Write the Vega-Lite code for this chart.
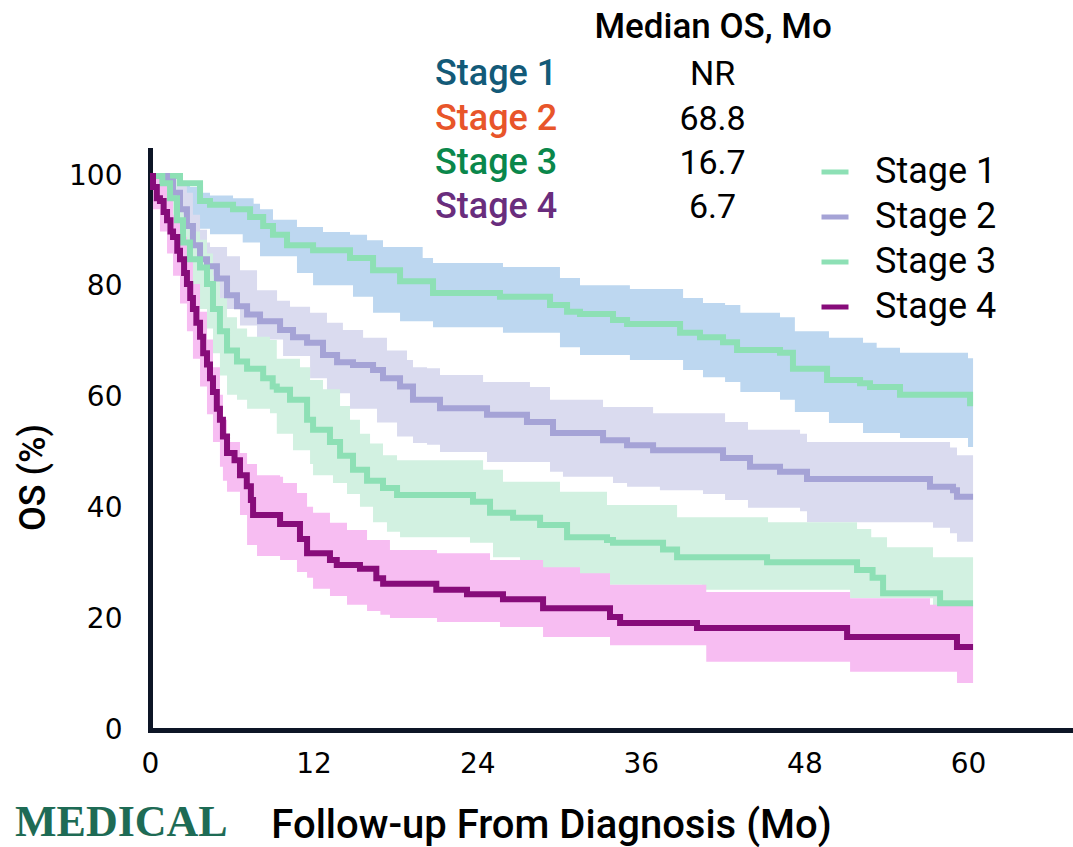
{
"$schema": "https://vega.github.io/schema/vega-lite/v6.json",
"width": 923, "height": 580,
"autosize": {"type": "none"},
"padding": {"left": 150, "top": 150, "right": 0, "bottom": 117},
"background": "white",
"config": {"view": {"stroke": null}, "font": "DejaVu Sans",
 "axis": {"domainColor": "#0d1526", "domainWidth": 5, "domainCap": "square", "ticks": false, "grid": false, "labelFlush": false, "labelFont": "DejaVu Sans", "labelFontSize": 28, "labelColor": "black", "titleFont": "Roboto", "titleFontSize": 40, "titleFontWeight": 500, "titleColor": "black"}},
"datasets": {
"curves": [
{"stage":"Stage 1","month":0,"os":100},{"stage":"Stage 1","month":2.2,"os":98.7},{"stage":"Stage 1","month":3.67,"os":95.5},{"stage":"Stage 1","month":4.4,"os":94.8},{"stage":"Stage 1","month":6.09,"os":94.0},{"stage":"Stage 1","month":7.34,"os":92.6},{"stage":"Stage 1","month":8.3,"os":91.0},{"stage":"Stage 1","month":9.02,"os":89.4},{"stage":"Stage 1","month":10.05,"os":87.5},{"stage":"Stage 1","month":11.96,"os":86.6},{"stage":"Stage 1","month":14.67,"os":85.2},{"stage":"Stage 1","month":16.36,"os":83.0},{"stage":"Stage 1","month":18.34,"os":81.0},{"stage":"Stage 1","month":20.76,"os":78.9},{"stage":"Stage 1","month":25.67,"os":78.2},{"stage":"Stage 1","month":29.34,"os":76.7},{"stage":"Stage 1","month":30.59,"os":75.5},{"stage":"Stage 1","month":31.54,"os":75.1},{"stage":"Stage 1","month":33.96,"os":74.0},{"stage":"Stage 1","month":34.99,"os":73.3},{"stage":"Stage 1","month":38.88,"os":71.7},{"stage":"Stage 1","month":40.34,"os":70.9},{"stage":"Stage 1","month":42.03,"os":70.0},{"stage":"Stage 1","month":43.06,"os":68.6},{"stage":"Stage 1","month":46.21,"os":68.1},{"stage":"Stage 1","month":47.16,"os":65.2},{"stage":"Stage 1","month":49.66,"os":63.2},{"stage":"Stage 1","month":52.08,"os":62.6},{"stage":"Stage 1","month":52.81,"os":61.9},{"stage":"Stage 1","month":55.01,"os":60.5},{"stage":"Stage 1","month":60.15,"os":59.0},{"stage":"Stage 1","month":60.37,"os":59.0},
{"stage":"Stage 2","month":0,"os":100},{"stage":"Stage 2","month":1.25,"os":99},{"stage":"Stage 2","month":1.69,"os":97},{"stage":"Stage 2","month":2.2,"os":94},{"stage":"Stage 2","month":2.71,"os":91},{"stage":"Stage 2","month":3.15,"os":87.5},{"stage":"Stage 2","month":3.67,"os":85},{"stage":"Stage 2","month":4.18,"os":83.7},{"stage":"Stage 2","month":4.91,"os":81.5},{"stage":"Stage 2","month":5.65,"os":78.5},{"stage":"Stage 2","month":6.38,"os":76.5},{"stage":"Stage 2","month":7.12,"os":75},{"stage":"Stage 2","month":8.07,"os":73.8},{"stage":"Stage 2","month":9.54,"os":72.2},{"stage":"Stage 2","month":10.49,"os":70.9},{"stage":"Stage 2","month":11.52,"os":69.9},{"stage":"Stage 2","month":12.69,"os":67.7},{"stage":"Stage 2","month":13.72,"os":66.4},{"stage":"Stage 2","month":14.89,"os":65.9},{"stage":"Stage 2","month":16.36,"os":65},{"stage":"Stage 2","month":17.09,"os":63.5},{"stage":"Stage 2","month":18.34,"os":62},{"stage":"Stage 2","month":19.29,"os":59.6},{"stage":"Stage 2","month":21.27,"os":58.1},{"stage":"Stage 2","month":24.72,"os":56.9},{"stage":"Stage 2","month":27.65,"os":55.6},{"stage":"Stage 2","month":29.56,"os":53.6},{"stage":"Stage 2","month":33.23,"os":52.3},{"stage":"Stage 2","month":34.99,"os":51.4},{"stage":"Stage 2","month":36.9,"os":50.5},{"stage":"Stage 2","month":42.03,"os":49.1},{"stage":"Stage 2","month":44.01,"os":47.5},{"stage":"Stage 2","month":46.21,"os":46.6},{"stage":"Stage 2","month":48.19,"os":45.3},{"stage":"Stage 2","month":57.21,"os":43.9},{"stage":"Stage 2","month":58.9,"os":43.3},{"stage":"Stage 2","month":59.19,"os":42.1},{"stage":"Stage 2","month":60.37,"os":42.1},
{"stage":"Stage 3","month":0,"os":100},{"stage":"Stage 3","month":0.9,"os":98.7},{"stage":"Stage 3","month":1.47,"os":96},{"stage":"Stage 3","month":1.98,"os":92},{"stage":"Stage 3","month":2.42,"os":88},{"stage":"Stage 3","month":2.93,"os":85},{"stage":"Stage 3","month":3.67,"os":83.5},{"stage":"Stage 3","month":4.18,"os":80.5},{"stage":"Stage 3","month":4.62,"os":76},{"stage":"Stage 3","month":5.13,"os":72},{"stage":"Stage 3","month":5.65,"os":68.5},{"stage":"Stage 3","month":6.38,"os":66.5},{"stage":"Stage 3","month":7.12,"os":65.2},{"stage":"Stage 3","month":8.3,"os":63.5},{"stage":"Stage 3","month":9.0,"os":62},{"stage":"Stage 3","month":9.3,"os":61.4},{"stage":"Stage 3","month":10.27,"os":59.6},{"stage":"Stage 3","month":11.52,"os":56},{"stage":"Stage 3","month":11.96,"os":54.2},{"stage":"Stage 3","month":13.2,"os":52},{"stage":"Stage 3","month":13.94,"os":49.5},{"stage":"Stage 3","month":14.89,"os":47},{"stage":"Stage 3","month":15.92,"os":45},{"stage":"Stage 3","month":17.09,"os":43.7},{"stage":"Stage 3","month":18.12,"os":42.4},{"stage":"Stage 3","month":23.69,"os":41.2},{"stage":"Stage 3","month":24.94,"os":39.2},{"stage":"Stage 3","month":26.63,"os":38.3},{"stage":"Stage 3","month":28.61,"os":37.0},{"stage":"Stage 3","month":30.59,"os":34.8},{"stage":"Stage 3","month":33.52,"os":34.3},{"stage":"Stage 3","month":33.96,"os":33.8},{"stage":"Stage 3","month":37.63,"os":32.6},{"stage":"Stage 3","month":38.66,"os":31.2},{"stage":"Stage 3","month":45.26,"os":30.3},{"stage":"Stage 3","month":51.86,"os":28.9},{"stage":"Stage 3","month":53.0,"os":27.5},{"stage":"Stage 3","month":53.77,"os":24.7},{"stage":"Stage 3","month":57.95,"os":22.9},{"stage":"Stage 3","month":60.37,"os":22.9},
{"stage":"Stage 4","month":0,"os":100},{"stage":"Stage 4","month":0.22,"os":98},{"stage":"Stage 4","month":0.5,"os":96},{"stage":"Stage 4","month":0.73,"os":95.5},{"stage":"Stage 4","month":1.0,"os":93.5},{"stage":"Stage 4","month":1.25,"os":92},{"stage":"Stage 4","month":1.5,"os":90},{"stage":"Stage 4","month":1.69,"os":89},{"stage":"Stage 4","month":2.0,"os":86.5},{"stage":"Stage 4","month":2.2,"os":85},{"stage":"Stage 4","month":2.5,"os":82.5},{"stage":"Stage 4","month":2.71,"os":80.5},{"stage":"Stage 4","month":2.95,"os":78},{"stage":"Stage 4","month":3.15,"os":76},{"stage":"Stage 4","month":3.4,"os":73.5},{"stage":"Stage 4","month":3.67,"os":71},{"stage":"Stage 4","month":3.9,"os":68},{"stage":"Stage 4","month":4.18,"os":66},{"stage":"Stage 4","month":4.4,"os":63.5},{"stage":"Stage 4","month":4.62,"os":61},{"stage":"Stage 4","month":4.9,"os":58},{"stage":"Stage 4","month":5.13,"os":56},{"stage":"Stage 4","month":5.35,"os":53},{"stage":"Stage 4","month":5.65,"os":50},{"stage":"Stage 4","month":6.2,"os":48.7},{"stage":"Stage 4","month":6.6,"os":46},{"stage":"Stage 4","month":7.1,"os":44},{"stage":"Stage 4","month":7.4,"os":41.5},{"stage":"Stage 4","month":7.56,"os":38.8},{"stage":"Stage 4","month":9.54,"os":37.2},{"stage":"Stage 4","month":11.0,"os":34.5},{"stage":"Stage 4","month":11.52,"os":31.9},{"stage":"Stage 4","month":13.2,"os":30.7},{"stage":"Stage 4","month":13.7,"os":29.8},{"stage":"Stage 4","month":15.4,"os":29.1},{"stage":"Stage 4","month":16.6,"os":27.4},{"stage":"Stage 4","month":17.1,"os":26.4},{"stage":"Stage 4","month":21.0,"os":25.3},{"stage":"Stage 4","month":23.25,"os":24.5},{"stage":"Stage 4","month":25.89,"os":23.6},{"stage":"Stage 4","month":28.83,"os":22.0},{"stage":"Stage 4","month":33.74,"os":20.4},{"stage":"Stage 4","month":34.48,"os":19.3},{"stage":"Stage 4","month":40.12,"os":18.4},{"stage":"Stage 4","month":51.13,"os":16.8},{"stage":"Stage 4","month":59.19,"os":15.0},{"stage":"Stage 4","month":60.37,"os":15.0}
],
"bands": [
{"band":"Stage 1","month":0,"lower":100,"upper":100},{"band":"Stage 1","month":1.5,"lower":99,"upper":100},{"band":"Stage 1","month":2.42,"lower":95,"upper":99},{"band":"Stage 1","month":2.93,"lower":92,"upper":98},{"band":"Stage 1","month":3.5,"lower":90.5,"upper":98},{"band":"Stage 1","month":3.89,"lower":90.5,"upper":97},{"band":"Stage 1","month":4.4,"lower":89.5,"upper":96.5},{"band":"Stage 1","month":6.09,"lower":89.5,"upper":96},{"band":"Stage 1","month":6.8,"lower":88,"upper":96},{"band":"Stage 1","month":7.6,"lower":88,"upper":95},{"band":"Stage 1","month":8.07,"lower":85.5,"upper":94},{"band":"Stage 1","month":9.02,"lower":85.5,"upper":92.1},{"band":"Stage 1","month":10.78,"lower":82.5,"upper":90.8},{"band":"Stage 1","month":11.96,"lower":80.3,"upper":90.8},{"band":"Stage 1","month":12.69,"lower":80.3,"upper":89.9},{"band":"Stage 1","month":14.67,"lower":80.3,"upper":89.4},{"band":"Stage 1","month":14.89,"lower":78.2,"upper":89.4},{"band":"Stage 1","month":15.92,"lower":78.2,"upper":88.4},{"band":"Stage 1","month":16.36,"lower":75.3,"upper":88.4},{"band":"Stage 1","month":17.09,"lower":75.3,"upper":87.2},{"band":"Stage 1","month":18.34,"lower":73.8,"upper":87.2},{"band":"Stage 1","month":20.0,"lower":73.8,"upper":85.2},{"band":"Stage 1","month":20.76,"lower":72.7,"upper":84.3},{"band":"Stage 1","month":25.89,"lower":71.7,"upper":83.6},{"band":"Stage 1","month":30.07,"lower":69.1,"upper":81.6},{"band":"Stage 1","month":31.54,"lower":67.7,"upper":80.3},{"band":"Stage 1","month":35.2,"lower":66.8,"upper":79.6},{"band":"Stage 1","month":39.1,"lower":65.0,"upper":78.0},{"band":"Stage 1","month":40.56,"lower":63.7,"upper":77.1},{"band":"Stage 1","month":42.18,"lower":62.8,"upper":76.7},{"band":"Stage 1","month":43.3,"lower":61.0,"upper":75.3},{"band":"Stage 1","month":46.21,"lower":59.6,"upper":74.5},{"band":"Stage 1","month":47.3,"lower":57.4,"upper":72.0},{"band":"Stage 1","month":49.8,"lower":55.4,"upper":70.8},{"band":"Stage 1","month":52.3,"lower":53.6,"upper":69.9},{"band":"Stage 1","month":53.3,"lower":53.6,"upper":69.0},{"band":"Stage 1","month":55.01,"lower":52.7,"upper":68.1},{"band":"Stage 1","month":60.0,"lower":51.1,"upper":67.1},{"band":"Stage 1","month":60.37,"lower":51.1,"upper":67.1},
{"band":"Stage 2","month":0,"lower":100,"upper":100},{"band":"Stage 2","month":1.25,"lower":97,"upper":100},{"band":"Stage 2","month":1.69,"lower":94,"upper":100},{"band":"Stage 2","month":2.2,"lower":90.5,"upper":99},{"band":"Stage 2","month":2.71,"lower":87,"upper":97},{"band":"Stage 2","month":3.15,"lower":84,"upper":93},{"band":"Stage 2","month":3.67,"lower":82,"upper":90.3},{"band":"Stage 2","month":4.18,"lower":80,"upper":88},{"band":"Stage 2","month":4.4,"lower":80,"upper":87.2},{"band":"Stage 2","month":5.13,"lower":76,"upper":87.2},{"band":"Stage 2","month":5.65,"lower":76,"upper":85.5},{"band":"Stage 2","month":6.6,"lower":73,"upper":83},{"band":"Stage 2","month":7.85,"lower":70.5,"upper":79.4},{"band":"Stage 2","month":9.32,"lower":70.5,"upper":77.5},{"band":"Stage 2","month":9.76,"lower":67.5,"upper":77.5},{"band":"Stage 2","month":10.27,"lower":67.5,"upper":76.4},{"band":"Stage 2","month":11.74,"lower":63.5,"upper":75.3},{"band":"Stage 2","month":12.98,"lower":60.8,"upper":73.5},{"band":"Stage 2","month":14.15,"lower":60.8,"upper":72.2},{"band":"Stage 2","month":14.67,"lower":58,"upper":72.2},{"band":"Stage 2","month":15.63,"lower":58,"upper":70.8},{"band":"Stage 2","month":16.65,"lower":55.5,"upper":70.8},{"band":"Stage 2","month":17.38,"lower":55.5,"upper":68.5},{"band":"Stage 2","month":18.12,"lower":53,"upper":68.5},{"band":"Stage 2","month":18.85,"lower":53,"upper":66.8},{"band":"Stage 2","month":19.29,"lower":51.8,"upper":65.5},{"band":"Stage 2","month":20.32,"lower":51.5,"upper":65.3},{"band":"Stage 2","month":21.27,"lower":50.2,"upper":64.1},{"band":"Stage 2","month":24.43,"lower":50.2,"upper":62.8},{"band":"Stage 2","month":24.72,"lower":48.4,"upper":62.8},{"band":"Stage 2","month":27.87,"lower":48.4,"upper":61.9},{"band":"Stage 2","month":29.34,"lower":46.6,"upper":59.6},{"band":"Stage 2","month":30.29,"lower":45.7,"upper":59.6},{"band":"Stage 2","month":33.23,"lower":45.7,"upper":58.3},{"band":"Stage 2","month":33.96,"lower":44.6,"upper":58.3},{"band":"Stage 2","month":34.99,"lower":43.9,"upper":58.3},{"band":"Stage 2","month":36.9,"lower":43.9,"upper":57.2},{"band":"Stage 2","month":37.4,"lower":43.3,"upper":57.2},{"band":"Stage 2","month":40.56,"lower":42.6,"upper":57.2},{"band":"Stage 2","month":42.18,"lower":41.5,"upper":55.6},{"band":"Stage 2","month":43.86,"lower":40.1,"upper":54.2},{"band":"Stage 2","month":47.68,"lower":39.5,"upper":53.5},{"band":"Stage 2","month":48.19,"lower":37.5,"upper":52.0},{"band":"Stage 2","month":57.43,"lower":36.5,"upper":52.0},{"band":"Stage 2","month":58.68,"lower":35.5,"upper":51.0},{"band":"Stage 2","month":59.19,"lower":34.0,"upper":49.6},{"band":"Stage 2","month":60.37,"lower":34.0,"upper":49.6},
{"band":"Stage 3","month":0,"lower":100,"upper":100},{"band":"Stage 3","month":0.73,"lower":96,"upper":100},{"band":"Stage 3","month":1.47,"lower":91,"upper":100},{"band":"Stage 3","month":1.98,"lower":86,"upper":97},{"band":"Stage 3","month":2.42,"lower":82,"upper":93},{"band":"Stage 3","month":2.93,"lower":79,"upper":90},{"band":"Stage 3","month":3.67,"lower":76,"upper":88.5},{"band":"Stage 3","month":4.18,"lower":72.5,"upper":86},{"band":"Stage 3","month":4.62,"lower":68,"upper":82},{"band":"Stage 3","month":5.13,"lower":64,"upper":78},{"band":"Stage 3","month":5.65,"lower":60.5,"upper":74.5},{"band":"Stage 3","month":6.38,"lower":59.6,"upper":72.5},{"band":"Stage 3","month":7.12,"lower":58,"upper":71},{"band":"Stage 3","month":8.8,"lower":57.2,"upper":70.4},{"band":"Stage 3","month":9.3,"lower":53.5,"upper":67},{"band":"Stage 3","month":10.49,"lower":50.5,"upper":67},{"band":"Stage 3","month":11.0,"lower":50.5,"upper":65.5},{"band":"Stage 3","month":11.74,"lower":48,"upper":63.2},{"band":"Stage 3","month":11.96,"lower":46,"upper":63.2},{"band":"Stage 3","month":12.69,"lower":46,"upper":61.5},{"band":"Stage 3","month":13.42,"lower":44.6,"upper":61.5},{"band":"Stage 3","month":13.94,"lower":44.6,"upper":58.5},{"band":"Stage 3","month":14.45,"lower":42.6,"upper":58.5},{"band":"Stage 3","month":14.67,"lower":42.6,"upper":56},{"band":"Stage 3","month":15.4,"lower":40.3,"upper":53.5},{"band":"Stage 3","month":16.14,"lower":40.3,"upper":51.7},{"band":"Stage 3","month":16.36,"lower":37.5,"upper":51.7},{"band":"Stage 3","month":17.09,"lower":37.5,"upper":49.6},{"band":"Stage 3","month":17.38,"lower":35.8,"upper":49.6},{"band":"Stage 3","month":18.12,"lower":35.8,"upper":48.7},{"band":"Stage 3","month":18.34,"lower":34.8,"upper":48.7},{"band":"Stage 3","month":23.47,"lower":33.8,"upper":48.7},{"band":"Stage 3","month":24.43,"lower":33.8,"upper":47},{"band":"Stage 3","month":25.16,"lower":31.2,"upper":47},{"band":"Stage 3","month":25.89,"lower":31.2,"upper":44.8},{"band":"Stage 3","month":27.14,"lower":29.2,"upper":44.8},{"band":"Stage 3","month":30.07,"lower":29.2,"upper":43.0},{"band":"Stage 3","month":31.54,"lower":27.6,"upper":43.0},{"band":"Stage 3","month":33.52,"lower":27.6,"upper":40.6},{"band":"Stage 3","month":33.74,"lower":26.2,"upper":40.6},{"band":"Stage 3","month":38.66,"lower":26.2,"upper":38.4},{"band":"Stage 3","month":40.5,"lower":25.3,"upper":38.4},{"band":"Stage 3","month":45.33,"lower":25.3,"upper":37.5},{"band":"Stage 3","month":51.35,"lower":23.8,"upper":37.5},{"band":"Stage 3","month":51.86,"lower":23.8,"upper":36.3},{"band":"Stage 3","month":52.9,"lower":23.8,"upper":34.8},{"band":"Stage 3","month":54.06,"lower":23.8,"upper":33.0},{"band":"Stage 3","month":57.43,"lower":22.2,"upper":31.2},{"band":"Stage 3","month":60.37,"lower":22.2,"upper":31.2},
{"band":"Stage 4","month":0,"lower":100,"upper":100},{"band":"Stage 4","month":0.22,"lower":94,"upper":100},{"band":"Stage 4","month":0.73,"lower":90,"upper":98.5},{"band":"Stage 4","month":1.25,"lower":86,"upper":96},{"band":"Stage 4","month":1.69,"lower":82,"upper":93},{"band":"Stage 4","month":2.2,"lower":77,"upper":89},{"band":"Stage 4","month":2.71,"lower":72,"upper":85},{"band":"Stage 4","month":3.15,"lower":67,"upper":80.5},{"band":"Stage 4","month":3.67,"lower":62,"upper":75.5},{"band":"Stage 4","month":4.18,"lower":57,"upper":70.5},{"band":"Stage 4","month":4.62,"lower":52,"upper":65.5},{"band":"Stage 4","month":5.13,"lower":47.5,"upper":60.5},{"band":"Stage 4","month":5.35,"lower":45,"upper":56},{"band":"Stage 4","month":5.65,"lower":43,"upper":52},{"band":"Stage 4","month":6.6,"lower":38.8,"upper":50},{"band":"Stage 4","month":7.12,"lower":33.4,"upper":48},{"band":"Stage 4","month":7.85,"lower":31.4,"upper":46},{"band":"Stage 4","month":9.54,"lower":30.7,"upper":45.7},{"band":"Stage 4","month":9.76,"lower":30.7,"upper":44.6},{"band":"Stage 4","month":10.78,"lower":28.5,"upper":42.8},{"band":"Stage 4","month":11.52,"lower":27.5,"upper":40.3},{"band":"Stage 4","month":11.96,"lower":25.5,"upper":39.2},{"band":"Stage 4","month":13.2,"lower":24.2,"upper":37.4},{"band":"Stage 4","month":14.45,"lower":22.6,"upper":36.1},{"band":"Stage 4","month":15.92,"lower":21.5,"upper":34.3},{"band":"Stage 4","month":16.9,"lower":20.8,"upper":34.3},{"band":"Stage 4","month":17.6,"lower":20.2,"upper":32.5},{"band":"Stage 4","month":21.05,"lower":19.5,"upper":31.9},{"band":"Stage 4","month":24.94,"lower":19.5,"upper":30.7},{"band":"Stage 4","month":25.67,"lower":18.6,"upper":30.7},{"band":"Stage 4","month":28.83,"lower":16.8,"upper":29.4},{"band":"Stage 4","month":31.54,"lower":16.8,"upper":28.3},{"band":"Stage 4","month":33.74,"lower":15.3,"upper":26.2},{"band":"Stage 4","month":40.8,"lower":12.3,"upper":24.9},{"band":"Stage 4","month":51.35,"lower":10.5,"upper":23.8},{"band":"Stage 4","month":57.21,"lower":10.5,"upper":22.6},{"band":"Stage 4","month":59.19,"lower":8.5,"upper":22.6},{"band":"Stage 4","month":60.37,"lower":8.5,"upper":22.6}
],
"medians": [
{"group":"Stage 1","median":"NR","os":116.4},
{"group":"Stage 2","median":"68.8","os":108.4},
{"group":"Stage 3","median":"16.7","os":100.3},
{"group":"Stage 4","median":"6.7","os":92.5}
]
},
"layer": [
{"data": {"name": "bands"},
 "mark": {"type": "area", "interpolate": "step-after", "opacity": 1},
 "encoding": {
  "x": {"field": "month", "type": "quantitative", "title": "Follow-up From Diagnosis (Mo)",
        "scale": {"domain": [0, 67.7], "nice": false, "zero": false},
        "axis": {"values": [0, 12, 24, 36, 48, 60], "labelPadding": 20, "titleX": 401, "titleY": 107, "titleAlign": "center", "titleBaseline": "alphabetic"}},
  "y": {"field": "upper", "type": "quantitative", "title": "OS (%)",
        "scale": {"domain": [0, 104.7], "nice": false},
        "axis": {"values": [0, 20, 40, 60, 80, 100], "labelPadding": 28, "titleX": -117, "titleY": 327, "titleAngle": 270, "titleAlign": "center", "titleBaseline": "middle", "titleFontSize": 36}},
  "y2": {"field": "lower"},
  "fill": {"field": "band", "type": "nominal", "legend": null,
           "scale": {"range": ["#bdd7f0", "#dadbef", "#d2f1e1", "#f7bdf2"]}}
 }},
{"data": {"name": "curves"},
 "mark": {"type": "line", "interpolate": "step-after", "strokeWidth": 6},
 "encoding": {
  "x": {"field": "month", "type": "quantitative", "title": "Follow-up From Diagnosis (Mo)"},
  "y": {"field": "os", "type": "quantitative", "title": "OS (%)"},
  "stroke": {"field": "stage", "type": "nominal",
             "scale": {"domain": ["Stage 1", "Stage 2", "Stage 3", "Stage 4"], "range": ["#8de0b5", "#a5a3d6", "#8de0b5", "#870c7a"]},
             "legend": {"title": null, "orient": "none", "legendX": 667, "legendY": 4, "symbolType": "stroke", "symbolSize": 729, "symbolStrokeWidth": 5, "labelFontSize": 36, "labelFont": "Roboto", "labelColor": "black", "rowPadding": 9, "labelOffset": 22}}
 }},
{"data": {"values": [{"label": "Median OS, Mo"}]},
 "mark": {"type": "text", "align": "center", "baseline": "alphabetic", "fontSize": 35, "font": "Roboto", "fontWeight": 500, "color": "black"},
 "encoding": {"x": {"datum": 41.3}, "y": {"datum": 124.9}, "text": {"field": "label"}}},
{"data": {"name": "medians"},
 "mark": {"type": "text", "align": "left", "baseline": "alphabetic", "fontSize": 36, "font": "Roboto", "fontWeight": 500},
 "encoding": {"x": {"datum": 20.9}, "y": {"field": "os", "type": "quantitative", "title": "OS (%)"}, "text": {"field": "group"},
   "color": {"field": "group", "type": "nominal", "legend": null,
             "scale": {"range": ["#135a78", "#e8552a", "#0a874b", "#692d7d"]}}}},
{"data": {"name": "medians"},
 "mark": {"type": "text", "align": "center", "baseline": "alphabetic", "fontSize": 34, "font": "Roboto", "color": "black"},
 "encoding": {"x": {"datum": 41.26}, "y": {"field": "os", "type": "quantitative", "title": "OS (%)"}, "text": {"field": "median"}}},
{"data": {"values": [{"label": "MEDICAL"}]},
 "mark": {"type": "text", "align": "left", "baseline": "alphabetic", "fontSize": 44, "font": "Liberation Serif", "fontWeight": "bold", "color": "#1e6b55"},
 "encoding": {"x": {"datum": -9.9}, "y": {"datum": -19.2}, "text": {"field": "label"}}}
]
}
